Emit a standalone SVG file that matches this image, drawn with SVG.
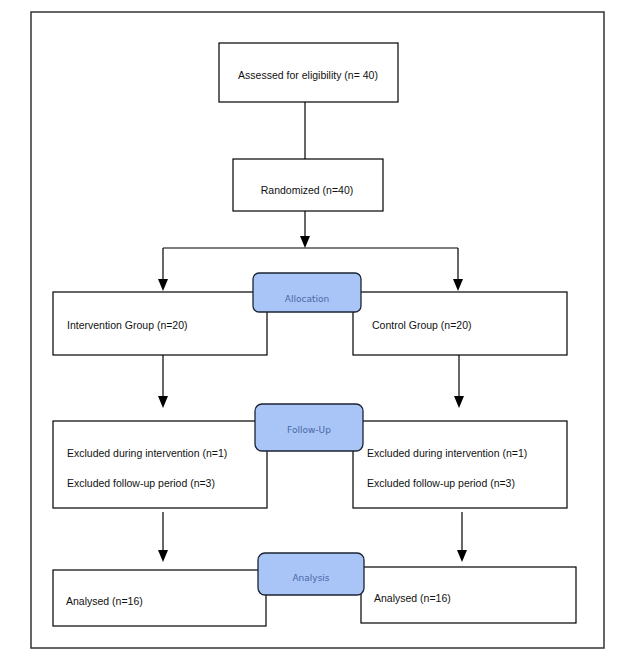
<svg xmlns="http://www.w3.org/2000/svg" width="627" height="660" viewBox="0 0 627 660">
<style>
.box{fill:#fff;stroke:#000;stroke-width:1.2}
.phase{fill:#a9c5f7;stroke:#1b2433;stroke-width:1.3}
.t{font-family:"Liberation Sans",Arial,sans-serif;font-size:10.5px;fill:#111}
.pt{font-family:"DejaVu Sans","Liberation Sans",sans-serif;font-size:9px;fill:#4a68a6;text-anchor:middle}
.ln{stroke:#000;stroke-width:1.2;fill:none}
.ah{fill:#000}
</style>
<rect x="0" y="0" width="627" height="660" fill="#fff"/>
<rect x="31" y="12" width="573" height="636" fill="none" stroke="#333" stroke-width="1.5"/>
<g id="connectors">
<line class="ln" x1="305" y1="102" x2="305" y2="159"/>
<path class="ln" d="M305,211 V236"/>
<path class="ah" d="M300,236 L310,236 L305,248 Z"/>
<path class="ln" d="M163,248 H458"/>
<path class="ln" d="M163,248 V279"/>
<path class="ah" d="M158,279 L168,279 L163,291 Z"/>
<path class="ln" d="M458,248 V279"/>
<path class="ah" d="M453,279 L463,279 L458,291 Z"/>
<path class="ln" d="M163,355 V396"/>
<path class="ah" d="M158,396 L168,396 L163,408 Z"/>
<path class="ln" d="M459,355 V396"/>
<path class="ah" d="M454,396 L464,396 L459,408 Z"/>
<path class="ln" d="M163,512 V550"/>
<path class="ah" d="M158,550 L168,550 L163,562 Z"/>
<path class="ln" d="M462,512 V550"/>
<path class="ah" d="M457,550 L467,550 L462,562 Z"/>
</g>
<g id="assessed"><rect class="box" x="219" y="43" width="179" height="59"/><text class="t" x="308" y="79" text-anchor="middle">Assessed for eligibility (n= 40)</text></g>
<g id="randomized"><rect class="box" x="233" y="159" width="150" height="52"/><text class="t" x="307" y="194" text-anchor="middle">Randomized (n=40)</text></g>
<g id="intervention"><rect class="box" x="53" y="292" width="214" height="63"/><text class="t" x="67" y="329">Intervention Group (n=20)</text></g>
<g id="control"><rect class="box" x="353" y="292" width="214" height="63"/><text class="t" x="372" y="329">Control Group (n=20)</text></g>
<g id="allocation"><rect class="phase" x="253" y="273" width="108" height="39" rx="6"/><text class="pt" x="307" y="302">Allocation</text></g>
<g id="followup-left"><rect class="box" x="53" y="421" width="214" height="87"/><text class="t" x="67" y="457">Excluded during intervention (n=1)</text><text class="t" x="67" y="487">Excluded follow-up period (n=3)</text></g>
<g id="followup-right"><rect class="box" x="353" y="421" width="214" height="87"/><text class="t" x="367" y="457">Excluded during intervention (n=1)</text><text class="t" x="367" y="487">Excluded follow-up period (n=3)</text></g>
<g id="followup"><rect class="phase" x="255" y="404" width="108" height="47" rx="7"/><text class="pt" x="309" y="433">Follow-Up</text></g>
<g id="analysed-left"><rect class="box" x="53" y="570" width="213" height="56"/><text class="t" x="66" y="605">Analysed (n=16)</text></g>
<g id="analysed-right"><rect class="box" x="361" y="567" width="215" height="56"/><text class="t" x="374" y="602">Analysed (n=16)</text></g>
<g id="analysis"><rect class="phase" x="258" y="553" width="106" height="42" rx="7"/><text class="pt" x="311" y="581">Analysis</text></g>
</svg>
